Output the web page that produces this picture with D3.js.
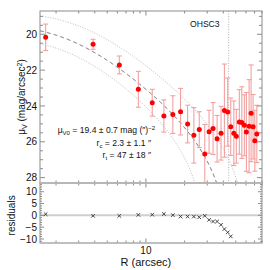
<!DOCTYPE html>
<html><head><meta charset="utf-8">
<script src="https://cdn.jsdelivr.net/npm/d3@7"></script>
<style>
html,body{margin:0;padding:0;background:#fff;}
svg{display:block;font-family:"Liberation Sans",Arial,Helvetica,sans-serif;}
</style></head><body>
<svg id="chart" width="270" height="270"></svg>
<script>
// surface brightness profile
const radius = [1.66, 3.88, 6.21, 8.73, 11.2, 13.8, 16.2, 18.6, 21.1, 23.6, 26.0, 28.7, 31.0, 33.3, 35.8,
  38.4, 40.8, 43.3, 45.7, 48.3, 50.5, 53.3, 55.7, 58.3, 60.5, 63.5, 65.8, 68.2, 70.3, 72.9];
const muV = [20.17, 20.56, 21.71, 23.07, 23.82, 24.56, 24.48, 24.32, 25.01, 25.64, 25.32, 26.68, 25.44, 25.26, 25.83,
  25.52, 24.26, 24.34, 25.16, 25.52, 25.69, 24.89, 24.93, 25.08, 25.45, 25.13, 24.41, 25.16, 25.94, 25.56];
const muErr = [0.74, 0.28, 0.5, 1.0, 0.75, 0.9, 1.05, 1.3, 1.05, 1.55, 1.0, 1.65, 1.2, 1.45, 1.3,
  1.5, 2.6, 1.9, 1.6, 1.8, 1.5, 1.8, 2.0, 1.7, 2.2, 2.6, 2.7, 1.8, 1.7, 1.6];
// residuals exist only inside the tidal radius (first 19 bins)
const resid = [0.5, -0.2, -0.2, 0.2, 0.3, 0.6, 0.1, -0.5, -0.5, -0.5, -0.8, -0.2, -1.9, -2.6, -2.6, -4.0, -5.8, -7.2, -8.9];

// King fits: best, bright bound, faint bound
const fitMu0 = [19.4, 18.7, 20.1];
const fitRc = [2.3, 2.9, 2.3];
const fitRt = [47, 65, 31];
const markR = 44;

const yTicks = [20, 22, 24, 26, 28];
const resTicks = [10, 5, 0, -5, -10];
const xMinor = [2, 3, 4, 5, 6, 7, 8, 9, 20, 30, 40, 50, 60, 70, 80];
const xMajor = [10];

const svg = d3.select("#chart");
const L = 40, R = 262, T = 11, MB = 183, RB = 243;
const axisCol = "#8c8c8c";

const x = d3.scaleLog().domain([1.5, 80]).range([L, R]);
const y = d3.scaleLinear().domain([18.7, 28.3]).range([T, MB]);
const yr = d3.scaleLinear().domain([-11.7, 13.7]).range([RB, MB]);

svg.append("clipPath").attr("id", "clipMain")
  .append("rect").attr("x", L).attr("y", T).attr("width", R - L).attr("height", MB - T);

function king(r, mu0, rc, rt) {
  const a = 1 / Math.sqrt(1 + (r / rc) ** 2), b = 1 / Math.sqrt(1 + (rt / rc) ** 2);
  const f = ((a - b) / (1 - b)) ** 2;
  return mu0 - 2.5 * Math.log10(f);
}

/* --- model curves -------------------------------------------------------- */
const gMain = svg.append("g").attr("clip-path", "url(#clipMain)");
const line = d3.line().x(d => x(d[0])).y(d => y(Math.min(d[1], 40)));
fitMu0.forEach((mu0, i) => {
  const rt = fitRt[i];
  const pts = d3.range(0, 1.00001, 1 / 800).map(t => {
    const r = 1.5 * Math.pow(rt / 1.5, t);
    return [r, king(r, mu0, fitRc[i], rt)];
  });
  gMain.append("path").datum(pts).attr("d", line).attr("fill", "none")
    .attr("stroke", i === 0 ? "#555" : "#aaa")
    .attr("stroke-width", i === 0 ? 0.9 : 0.9)
    .attr("stroke-dasharray", i === 0 ? "4,3" : "1,1.6");
});
gMain.append("line").attr("x1", x(markR)).attr("x2", x(markR)).attr("y1", T).attr("y2", MB)
  .attr("stroke", "#aaa").attr("stroke-width", 0.9).attr("stroke-dasharray", "1,1.6");

/* --- error bars + points ------------------------------------------------- */
const pts = radius.map((r, i) => ({ r, mu: muV[i], e: muErr[i] }));
const eb = gMain.append("g").attr("stroke", "#f4a0a0").attr("stroke-width", 1.1);
pts.forEach(d => {
  const cx = x(d.r), y0 = y(d.mu - d.e), y1 = y(d.mu + d.e);
  eb.append("line").attr("x1", cx).attr("x2", cx).attr("y1", y0).attr("y2", y1);
  eb.append("line").attr("x1", cx - 2.5).attr("x2", cx + 2.5).attr("y1", y0).attr("y2", y0);
  eb.append("line").attr("x1", cx - 2.5).attr("x2", cx + 2.5).attr("y1", y1).attr("y2", y1);
});
gMain.append("g").selectAll("circle").data(pts).join("circle")
  .attr("cx", d => x(d.r)).attr("cy", d => y(d.mu)).attr("r", 2.5).attr("fill", "#f00");

/* --- residual panel ------------------------------------------------------ */
svg.append("line").attr("x1", L).attr("x2", R).attr("y1", yr(0)).attr("y2", yr(0))
  .attr("stroke", "#cfcfcf").attr("stroke-width", 2);
const gRes = svg.append("g").attr("stroke", "#333").attr("stroke-width", 0.9);
resid.forEach((v, i) => {
  const cx = x(radius[i]), cy = yr(v), s = 1.8;
  gRes.append("path").attr("d", `M${cx - s},${cy - s}L${cx + s},${cy + s}M${cx - s},${cy + s}L${cx + s},${cy - s}`);
});

/* --- frames and ticks ---------------------------------------------------- */
const ax = svg.append("g").attr("stroke", axisCol).attr("stroke-width", 1).attr("fill", "none");
ax.append("rect").attr("x", L).attr("y", T).attr("width", R - L).attr("height", MB - T);
ax.append("rect").attr("x", L).attr("y", MB).attr("width", R - L).attr("height", RB - MB);
svg.append("line").attr("x1", L).attr("x2", R).attr("y1", MB).attr("y2", MB)
  .attr("stroke", "#bdbdbd").attr("stroke-width", 1.6);
svg.append("line").attr("x1", L).attr("x2", R).attr("y1", RB).attr("y2", RB)
  .attr("stroke", "#bdbdbd").attr("stroke-width", 1.6);

function vTick(yy, len) {
  ax.append("line").attr("x1", L).attr("x2", L + len).attr("y1", yy).attr("y2", yy);
  ax.append("line").attr("x1", R).attr("x2", R - len).attr("y1", yy).attr("y2", yy);
}
function hTick(xx, top, bot, len) {
  ax.append("line").attr("x1", xx).attr("x2", xx).attr("y1", top).attr("y2", top + len);
  ax.append("line").attr("x1", xx).attr("x2", xx).attr("y1", bot).attr("y2", bot - len);
}
d3.range(19, 28.01, 0.5).forEach(v => vTick(y(v), yTicks.includes(v) ? 5 : 3));
d3.range(-11, 13.01, 1).forEach(v => vTick(yr(v), resTicks.includes(v) ? 4 : 2));
xMinor.forEach(v => { hTick(x(v), T, MB, 2.5); hTick(x(v), MB, RB, 2.5); });
xMajor.forEach(v => { hTick(x(v), T, MB, 4.5); hTick(x(v), MB, RB, 4.5); });

/* --- labels -------------------------------------------------------------- */
const txt = svg.append("g").attr("fill", "#111").attr("font-size", 10);
yTicks.forEach(v => txt.append("text").attr("x", 37).attr("y", y(v)).attr("dy", "0.36em")
  .attr("text-anchor", "end").text(v));
resTicks.forEach(v => txt.append("text").attr("x", 37).attr("y", yr(v)).attr("dy", "0.36em")
  .attr("text-anchor", "end").text(v < 0 ? "\u2212" + (-v) : v));
xMajor.forEach(v => txt.append("text").attr("x", x(v)).attr("y", 254)
  .attr("text-anchor", "middle").text(v));
txt.append("text").attr("x", x(10)).attr("y", 266).attr("text-anchor", "middle")
  .attr("font-size", 11).text("R (arcsec)");
txt.append("text").attr("transform", `translate(15,${yr(0)}) rotate(-90)`)
  .attr("text-anchor", "middle").attr("font-size", 10).text("residuals");

const yl = txt.append("text").attr("transform", `translate(25,${(T + MB) / 2}) rotate(-90)`)
  .attr("text-anchor", "middle").attr("font-size", 10);
yl.append("tspan").text("\u03bc");
yl.append("tspan").attr("dy", 2).attr("font-size", 7).text("V");
yl.append("tspan").attr("dy", -2).text(" (mag/arcsec");
yl.append("tspan").attr("dy", -3.5).attr("font-size", 7).text("2");
yl.append("tspan").attr("dy", 3.5).text(")");

const ann = svg.append("g").attr("fill", "#111").attr("font-size", 8.6);
ann.append("text").attr("x", 190).attr("y", 27).text("OHSC3");
const l1 = ann.append("text").attr("x", 155).attr("y", 133).attr("text-anchor", "end");
l1.append("tspan").text("\u03bc");
l1.append("tspan").attr("dy", 2).attr("font-size", 6).text("V0");
l1.append("tspan").attr("dy", -2).text(" = 19.4 \u00b1 0.7 mag (\u2033)");
l1.append("tspan").attr("dy", -3.5).attr("font-size", 6).text("\u22122");
const l2 = ann.append("text").attr("x", 151).attr("y", 145.5).attr("text-anchor", "end");
l2.append("tspan").text("r");
l2.append("tspan").attr("dy", 2).attr("font-size", 6).text("c");
l2.append("tspan").attr("dy", -2).text(" = 2.3 \u00b1 1.1 \u2033");
const l3 = ann.append("text").attr("x", 151).attr("y", 158).attr("text-anchor", "end");
l3.append("tspan").text("r");
l3.append("tspan").attr("dy", 2).attr("font-size", 6).text("t");
l3.append("tspan").attr("dy", -2).text(" = 47 \u00b1 18 \u2033");
</script>
</body></html>
